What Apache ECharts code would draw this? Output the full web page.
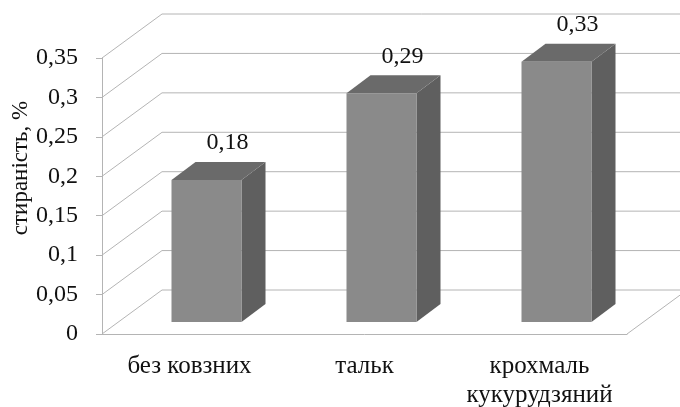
<!DOCTYPE html>
<html>
<head>
<meta charset="utf-8">
<script src="https://cdn.jsdelivr.net/npm/echarts@6/dist/echarts.min.js"></script>
<style>
    html, body { margin: 0; padding: 0; background: #fff; }
    #main { width: 680px; height: 407px; }
</style>
</head>
<body>
<div id="main"></div>
<script>
var categories = ['без ковзних', 'тальк', 'крохмаль\nкукурудзяний'];
var values = [0.18, 0.29, 0.33];
var yTicks = [0, 0.05, 0.1, 0.15, 0.2, 0.25, 0.3, 0.35];

var FONT = "'Liberation Serif', 'Times New Roman', serif";
var LINE = '#b4b4b4';
// perspective offsets (px)
var WALL_DX = 60, WALL_DY = -44;
var BAR_OX = 17, BAR_OY = -12;
var BAR_DX = 24, BAR_DY = -18;

function comma(v) {
    return String(v).replace('.', ',');
}

function renderGrid(params, api) {
    var cs = params.coordSys;
    var v = api.value(1);
    var y = api.coord([0, v])[1];
    var left = cs.x, right = cs.x + cs.width;
    var children = [{
        type: 'polyline',
        shape: { points: [[left, y], [left + WALL_DX, y + WALL_DY], [right + WALL_DX, y + WALL_DY]] },
        style: { stroke: LINE, lineWidth: 1, fill: null }
    }];
    if (v === 0) {
        children.push({
            type: 'line',
            shape: { x1: right, y1: y, x2: right + WALL_DX, y2: y + WALL_DY },
            style: { stroke: LINE, lineWidth: 1 }
        });
    }
    return { type: 'group', children: children };
}

function renderBar(params, api) {
    var top = api.coord([api.value(0), api.value(1)]);
    var base = api.coord([api.value(0), 0]);
    var w = api.size([1, 0])[0] * 0.4;
    var x0 = top[0] - w / 2 + BAR_OX, x1 = x0 + w;
    var yt = top[1] + BAR_OY, yb = base[1] + BAR_OY;
    return {
        type: 'group',
        children: [
            {
                type: 'polygon',
                shape: { points: [[x1, yb], [x1 + BAR_DX, yb + BAR_DY], [x1 + BAR_DX, yt + BAR_DY], [x1, yt]] },
                style: { fill: '#5f5f5f' }
            },
            {
                type: 'polygon',
                shape: { points: [[x0, yt], [x0 + BAR_DX, yt + BAR_DY], [x1 + BAR_DX, yt + BAR_DY], [x1, yt]] },
                style: { fill: '#6a6a6a' }
            },
            {
                type: 'rect',
                shape: { x: x0, y: yt, width: w, height: yb - yt },
                style: { fill: '#8a8a8a' }
            },
            {
                type: 'text',
                x: (x0 + x1) / 2 + 21,
                y: yt - 37,
                style: {
                    text: comma(api.value(1)),
                    fill: '#111',
                    font: '24px ' + FONT,
                    align: 'center',
                    verticalAlign: 'middle'
                }
            }
        ]
    };
}

var option = {
    animation: false,
    grid: { left: 102, right: 53, top: 58, bottom: 73, outerBoundsMode: 'none', containLabel: false },
    xAxis: {
        type: 'category',
        data: categories,
        axisLine: { lineStyle: { color: LINE } },
        axisTick: { length: 6, lineStyle: { color: LINE } },
        axisLabel: {
            interval: 0,
            color: '#111',
            fontFamily: FONT,
            fontSize: 25,
            lineHeight: 29,
            margin: 18
        }
    },
    yAxis: {
        type: 'value',
        min: 0,
        max: 0.35,
        interval: 0.05,
        axisLine: { show: true, lineStyle: { color: LINE } },
        axisTick: { show: true, length: 6, lineStyle: { color: LINE } },
        splitLine: { show: false },
        axisLabel: {
            color: '#111',
            fontFamily: FONT,
            fontSize: 24,
            margin: 24,
            formatter: comma
        }
    },
    graphic: [{
        type: 'text',
        x: 21,
        y: 168,
        rotation: Math.PI / 2,
        style: {
            text: 'стираність, %',
            fill: '#111',
            font: '23px ' + FONT,
            align: 'center',
            verticalAlign: 'middle'
        }
    }],
    series: [
        {
            type: 'custom',
            z: 1,
            silent: true,
            renderItem: renderGrid,
            data: yTicks.map(function (v) { return [0, v]; })
        },
        {
            type: 'custom',
            z: 3,
            renderItem: renderBar,
            data: values.map(function (v, i) { return [i, v]; })
        }
    ]
};

var myChart = echarts.init(document.getElementById('main'));
myChart.setOption(option);
</script>
</body>
</html>
